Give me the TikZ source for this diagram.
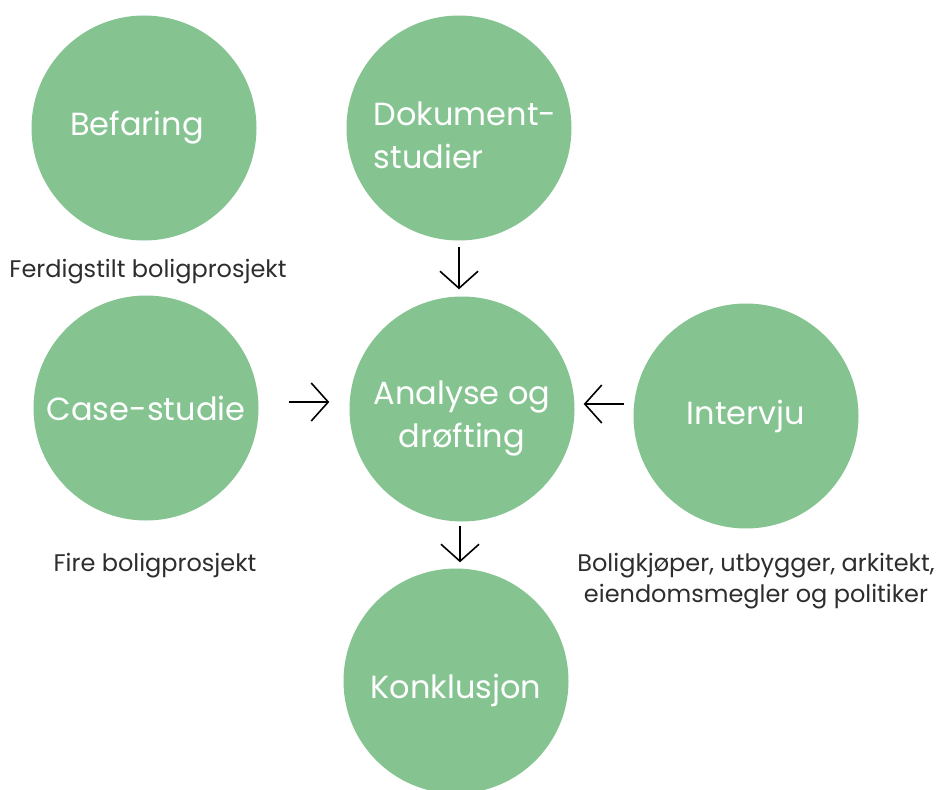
\documentclass[tikz,border=0pt]{standalone}
\usepackage{fontspec}
\setmainfont{Poppins}
\usetikzlibrary{arrows.meta}
\definecolor{sirkelgronn}{RGB}{133,196,145}
\definecolor{tekstgraa}{RGB}{45,45,45}

\begin{document}
\begin{tikzpicture}[x=1pt,y=-1pt,
		metode/.style={circle,fill=sirkelgronn,minimum size=225pt,inner sep=0pt,
			text=white,font=\fontsize{32}{43}\selectfont,align=center},
		merknad/.style={text=tekstgraa,font=\fontsize{24}{31}\selectfont,align=center},
		flyt/.style={line width=1.6pt,-{Straight Barb[length=17pt,width=38pt,line width=1.6pt]}}]
			\useasboundingbox (0,0) rectangle (944,789);
			% sirklene
			\node[metode] (befaring) at (144,128) {Befaring\hspace*{14pt}};
			\node[metode,align=left,text height=88pt,text depth=8pt] (dokument) at (459,128) {\hspace*{12pt}Dokument-\\\hspace*{12pt}studier};
			\node[metode,text height=84pt,text depth=8pt] (analyse) at (462,409) {Analyse og\\drøfting};
			\node[metode] (case) at (146,408) {Case-studie};
			\node[metode] (intervju) at (746,416) {Intervju};
			\node[metode,text height=34pt,text depth=0pt] (konklusjon) at (456,681) {Konklusjon};
			% tekst under sirklene
			\node[merknad] (ferdigstilt) at (148,272) {Ferdigstilt boligprosjekt};
			\node[merknad] (fire) at (155,566) {Fire boligprosjekt};
			\node[merknad] (aktorer) at (756,581) {Boligkjøper, utbygger, arkitekt,\\eiendomsmegler og politiker};
			% piler
			\draw[flyt,shorten <=6pt,shorten >=7pt] (dokument.south) -- ([xshift=-3pt]analyse.north);
			\draw[flyt,shorten <=30pt,shorten >=20pt] ([yshift=6pt]case.east) -- ([yshift=7pt]analyse.west);
			\draw[flyt,shorten <=9pt,shorten >=9pt] ([yshift=12pt]intervju.west) -- ([yshift=5pt]analyse.east);
			\draw[flyt,shorten <=4pt,shorten >=6pt] ([xshift=-2pt]analyse.south) -- ([xshift=4pt]konklusjon.north);
		\end{tikzpicture}
\end{document}
